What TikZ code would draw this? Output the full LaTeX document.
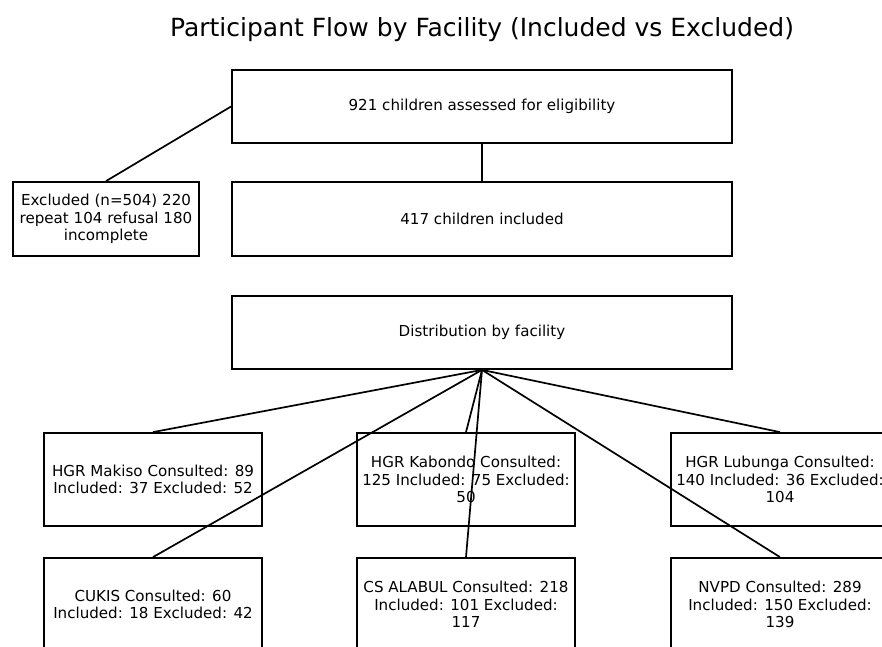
\documentclass[tikz,border=0pt]{standalone}
\usepackage{fontspec}
\setmainfont{DejaVu Sans}
\begin{document}
\begin{tikzpicture}[x=1pt,y=-1pt,
  box/.style={draw, line width=1.8pt, inner sep=0pt, align=center,
    font=\fontsize{15.1}{17.5}\selectfont},
  wide/.style={box, minimum width=500pt, minimum height=73pt},
  fac/.style={box, minimum width=218pt, minimum height=93pt},
  conn/.style={line width=1.7pt}]
\useasboundingbox (0,0) rectangle (882,646);
\clip (0,0) rectangle (882,646);
\node[font=\fontsize{25}{29}\selectfont] (title) at (482,30) {Participant Flow by Facility (Included vs Excluded)};
\node[wide] (assessed) at (482,106.5) {921 children assessed for eligibility};
\node[box, minimum width=186pt, minimum height=74pt] (excl) at (106,219) {Excluded (n=504) 220\\repeat 104 refusal 180\\incomplete};
\node[wide, minimum height=74pt] (incl) at (482,219) {417 children included};
\node[wide] (dist) at (482,332.5) {Distribution by facility};
\node[fac] (makiso) at (153,479.5) {HGR Makiso Consulted: 89\\Included: 37 Excluded: 52};
\node[fac] (kabondo) at (466,479.5) {HGR Kabondo Consulted:\\125 Included: 75 Excluded:\\50};
\node[fac] (lubunga) at (780,479.5) {HGR Lubunga Consulted:\\140 Included: 36 Excluded:\\104};
\node[fac] (cukis) at (153,604.5) {CUKIS Consulted: 60\\Included: 18 Excluded: 42};
\node[fac] (alabul) at (466,604.5) {CS ALABUL Consulted: 218\\Included: 101 Excluded:\\117};
\node[fac] (nvpd) at (780,604.5) {NVPD Consulted: 289\\Included: 150 Excluded:\\139};
\draw[conn] (assessed.west) -- (excl.north);
\draw[conn] (assessed.south) -- (incl.north);
\foreach \f in {makiso,kabondo,lubunga,cukis,alabul,nvpd}
  \draw[conn] (dist.south) -- (\f.north);
\end{tikzpicture}
\end{document}
